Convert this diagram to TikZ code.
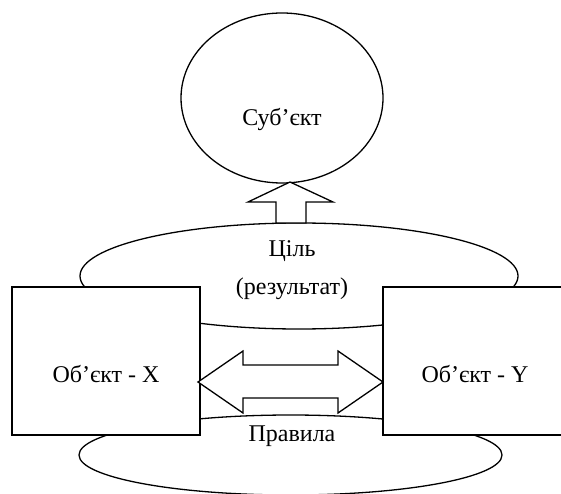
\documentclass[tikz,border=0pt]{standalone}
\usepackage{fontspec}
\setmainfont{Liberation Serif}
\usetikzlibrary{shapes.geometric}
\begin{document}
\begin{tikzpicture}[x=1pt,y=-1pt,line width=1.3pt,
  oval/.style={draw,ellipse,inner sep=0pt},
  objbox/.style={draw,fill=white,inner sep=0pt},
  blockarrow/.style={draw,fill=white,line join=miter},
  lbl/.style={font=\fontsize{24}{38}\selectfont,inner sep=0pt,align=center}]
\useasboundingbox (0,0) rectangle (561,494);
\clip (0,0) rectangle (561,494);
% ovals: rules (bottom), goal (middle), subject (top)
\node[oval,minimum width=423pt,minimum height=80pt] (rules) at (290.5,455) {};
\node[oval,minimum width=438pt,minimum height=106pt] (goal) at (299,276) {};
\node[oval,minimum width=202pt,minimum height=170pt] (subj) at (282,98) {};
% the two objects
\node[objbox,minimum width=188pt,minimum height=148pt] (objx) at (106,361) {};
\node[objbox,minimum width=192pt,minimum height=148pt] (objy) at (479,361) {};
% arrow from goal up to subject
\draw[blockarrow] (290,182) -- (333,202) -- (306,202) -- (306,223)
  -- (276,223) -- (276,202) -- (248,202) -- cycle;
% two-way arrow between the objects
\draw[blockarrow] (198,382) -- (243,351) -- (243,365) -- (338,365) -- (338,351)
  -- (383,382) -- (338,413) -- (338,398) -- (243,398) -- (243,413) -- cycle;
% labels
\node[lbl] (tsubj) at (282,120) {Суб’єкт};
\node[lbl] (tgoal) at (292,270) {Ціль\\(результат)};
\node[lbl] (trules) at (292,436) {Правила};
\node[lbl] (tx) at (106,374) {Об’єкт - X};
\node[lbl] (ty) at (475,374) {Об’єкт - Y};
\end{tikzpicture}
\end{document}
